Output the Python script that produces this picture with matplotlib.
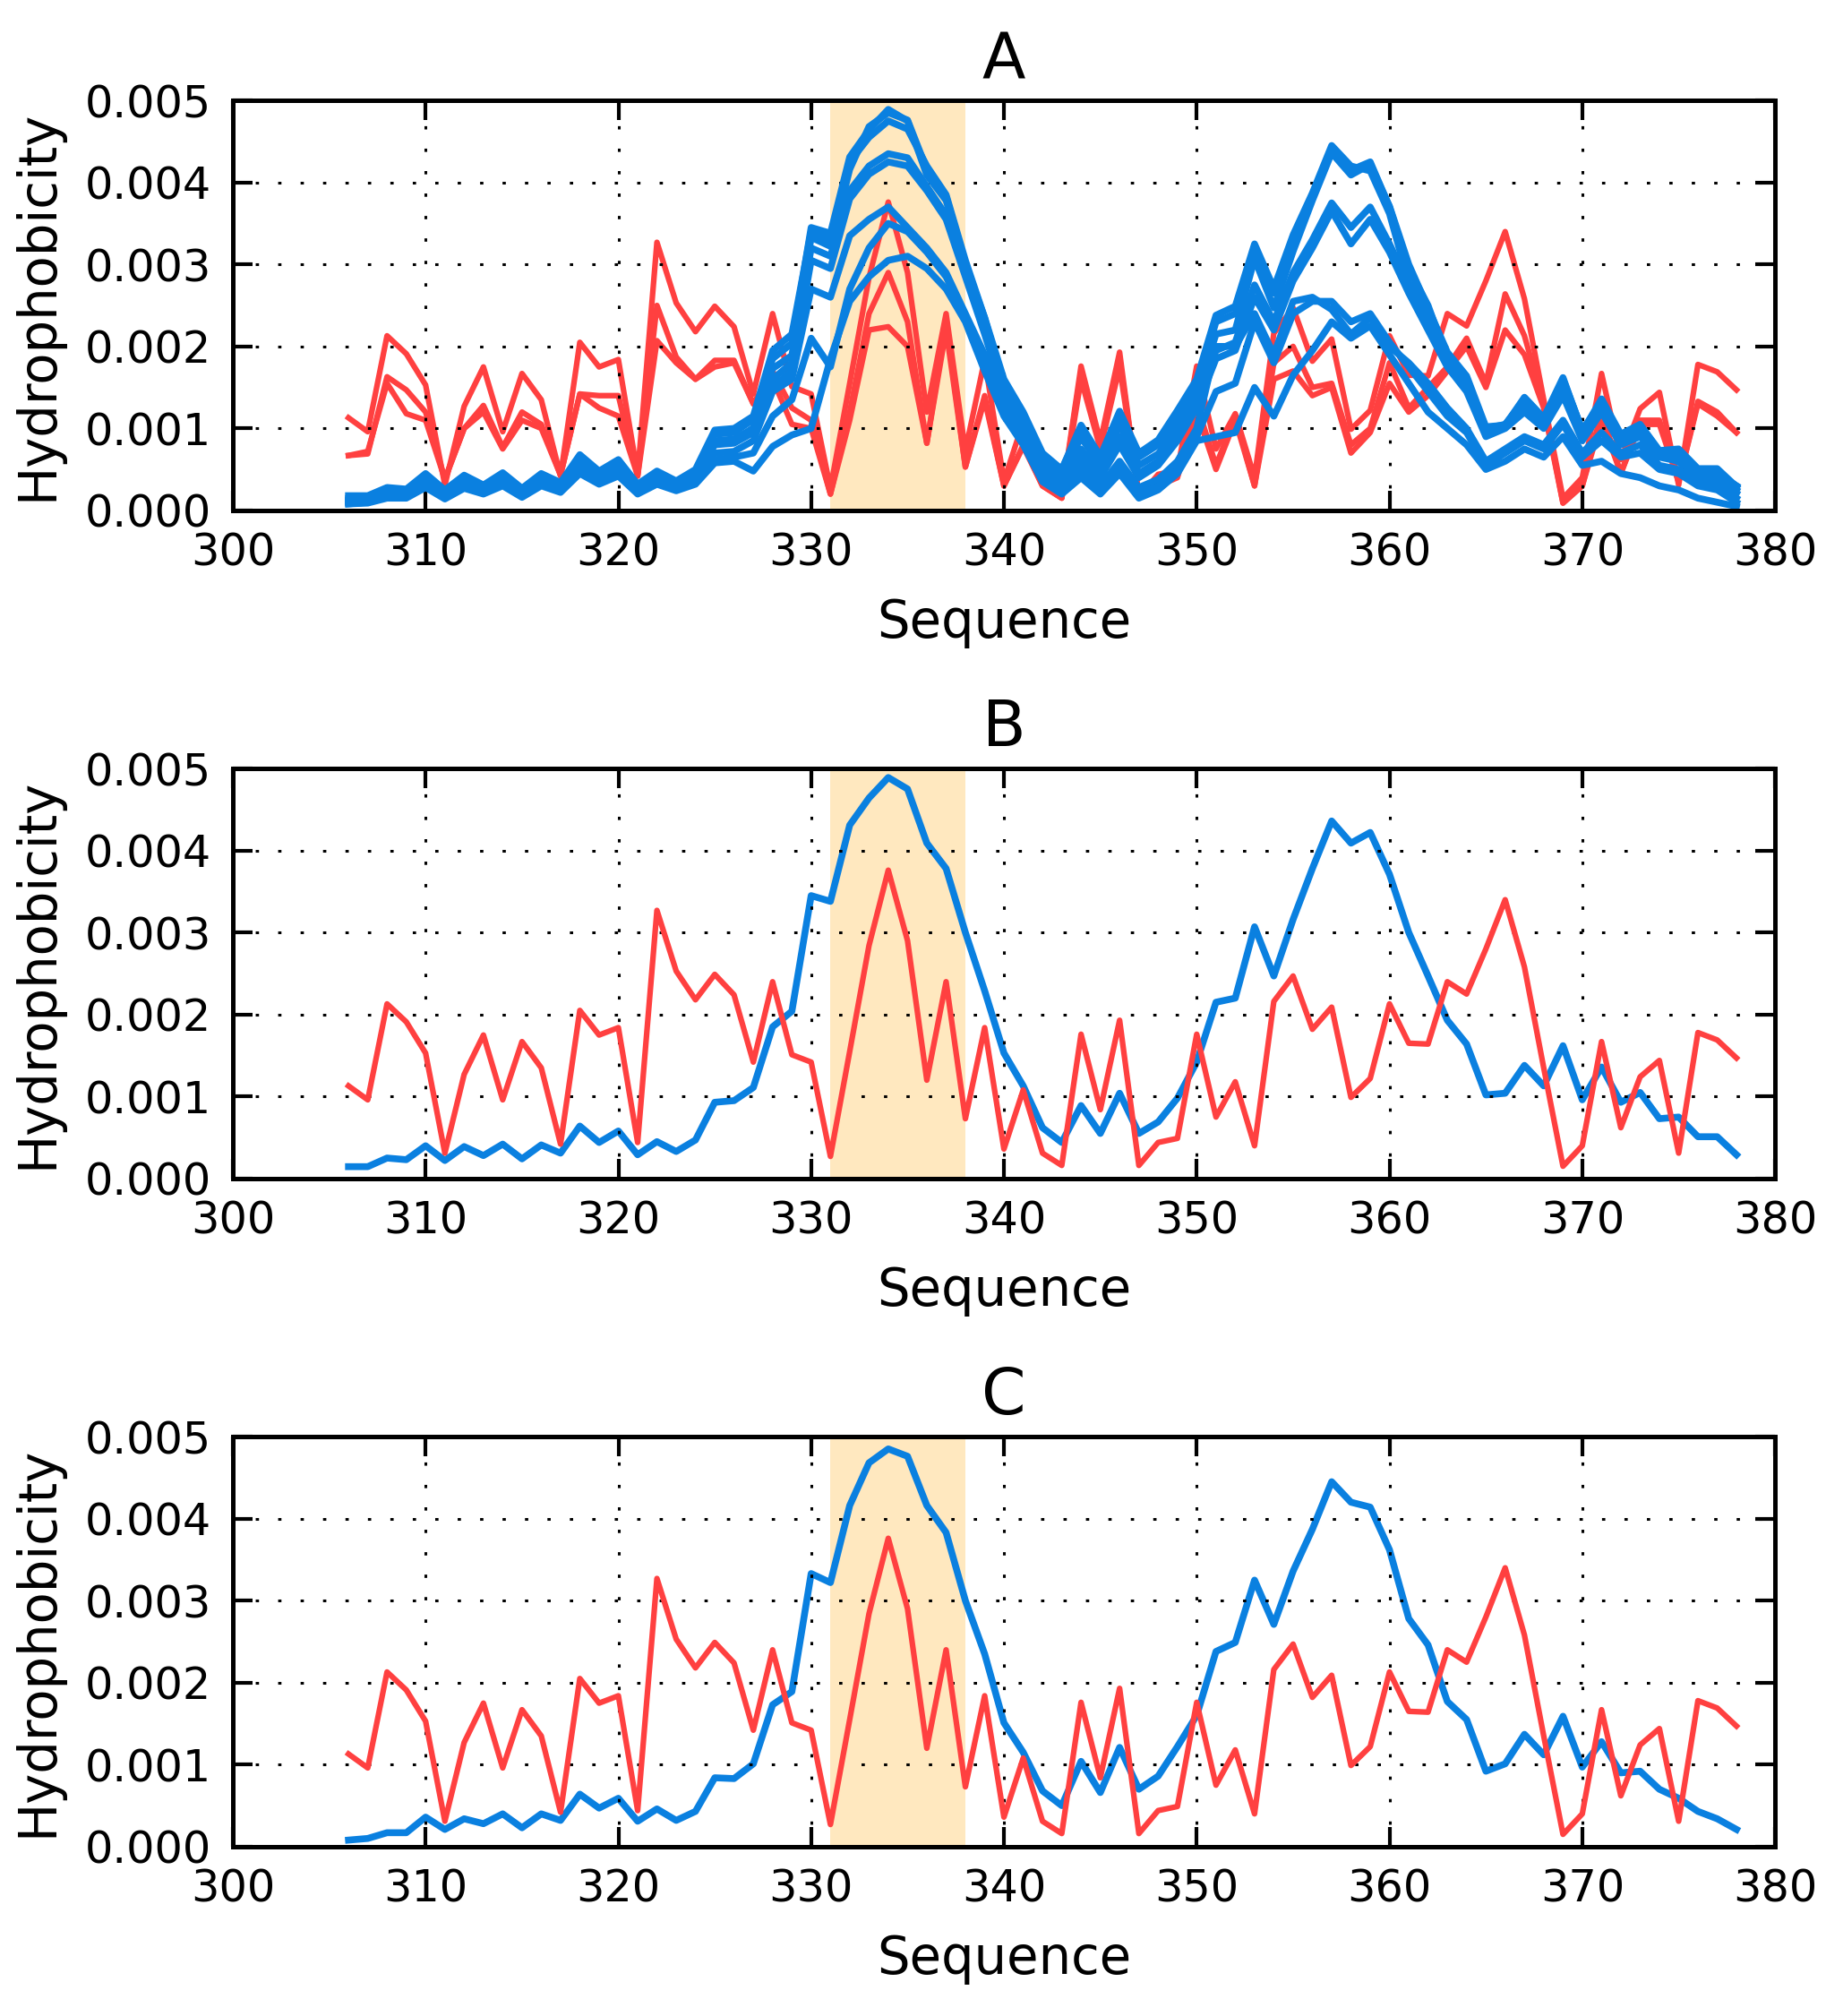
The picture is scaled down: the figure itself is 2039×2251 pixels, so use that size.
import numpy as np
import matplotlib
matplotlib.use("Agg")
import matplotlib.pyplot as plt

plt.rcParams['font.family'] = ['DejaVu Sans']

SCALE = 1e-3  # values below are in units of 0.001
seq = np.arange(306, 379)

red_main = [1.13, 0.96, 2.13, 1.91, 1.53, 0.31, 1.27, 1.75, 0.96, 1.67,
            1.35, 0.42, 2.05, 1.75, 1.84, 0.44, 3.27, 2.53, 2.18, 2.49,
            2.24, 1.42, 2.40, 1.51, 1.42, 0.27, 1.55, 2.84, 3.76, 2.90,
            1.20, 2.40, 0.73, 1.84, 0.36, 1.08, 0.31, 0.16, 1.76, 0.84,
            1.93, 0.16, 0.44, 0.49, 1.76, 0.75, 1.18, 0.40, 2.16, 2.47,
            1.82, 2.09, 0.99, 1.22, 2.13, 1.65, 1.64, 2.40, 2.25, 2.80,
            3.40, 2.58, 1.35, 0.15, 0.40, 1.67, 0.62, 1.24, 1.44, 0.31,
            1.78, 1.69, 1.47]

red_a2 = [0.67, 0.69, 1.63, 1.47, 1.20, 0.38, 1.00, 1.28, 0.77, 1.20,
          1.05, 0.43, 1.42, 1.40, 1.40, 0.42, 2.50, 1.87, 1.60, 1.83,
          1.83, 1.30, 1.70, 1.25, 1.10, 0.20, 1.20, 2.40, 2.90, 2.30,
          0.82, 2.30, 0.53, 1.40, 0.30, 0.80, 0.30, 0.15, 1.70, 0.80,
          1.85, 0.18, 0.35, 0.45, 1.30, 0.55, 1.15, 0.30, 1.80, 2.00,
          1.50, 1.55, 0.80, 1.00, 1.80, 1.25, 1.50, 1.75, 2.10, 1.55,
          2.64, 2.13, 1.30, 0.09, 0.30, 1.20, 0.45, 1.10, 1.10, 0.35,
          1.33, 1.20, 0.95]

red_a3 = [0.67, 0.72, 1.55, 1.18, 1.10, 0.38, 1.00, 1.20, 0.75, 1.10,
          1.00, 0.43, 1.42, 1.25, 1.15, 0.42, 2.07, 1.80, 1.60, 1.75,
          1.80, 1.30, 1.60, 1.05, 1.00, 0.20, 1.10, 2.20, 2.24, 2.00,
          0.82, 2.20, 0.53, 1.35, 0.30, 0.78, 0.30, 0.15, 1.60, 0.75,
          1.75, 0.18, 0.30, 0.40, 1.20, 0.50, 1.10, 0.30, 1.60, 1.70,
          1.40, 1.50, 0.70, 0.95, 1.55, 1.20, 1.40, 1.70, 2.00, 1.50,
          2.20, 1.90, 1.25, 0.09, 0.30, 1.10, 0.45, 1.05, 1.05, 0.35,
          1.30, 1.15, 0.95]

blue_B = [0.145, 0.145, 0.25, 0.23, 0.40, 0.22, 0.39, 0.28, 0.42, 0.24,
          0.41, 0.31, 0.64, 0.44, 0.58, 0.29, 0.45, 0.33, 0.47, 0.93,
          0.95, 1.11, 1.85, 2.04, 3.45, 3.38, 4.31, 4.64, 4.89, 4.75,
          4.09, 3.78, 3.00, 2.29, 1.53, 1.13, 0.62, 0.44, 0.89, 0.55,
          1.04, 0.55, 0.69, 0.98, 1.42, 2.15, 2.20, 3.07, 2.47, 3.16,
          3.78, 4.36, 4.09, 4.22, 3.71, 3.00, 2.47, 1.93, 1.64, 1.02,
          1.04, 1.38, 1.13, 1.62, 0.96, 1.36, 0.93, 1.05, 0.73, 0.75,
          0.51, 0.51, 0.29]

blue_C = [0.08, 0.10, 0.17, 0.17, 0.36, 0.21, 0.34, 0.28, 0.40, 0.23,
          0.40, 0.32, 0.64, 0.47, 0.59, 0.31, 0.46, 0.32, 0.43, 0.84,
          0.83, 1.01, 1.73, 1.89, 3.33, 3.22, 4.16, 4.68, 4.85, 4.76,
          4.16, 3.83, 3.00, 2.35, 1.51, 1.15, 0.68, 0.50, 1.04, 0.66,
          1.21, 0.70, 0.86, 1.22, 1.60, 2.38, 2.49, 3.25, 2.71, 3.36,
          3.87, 4.45, 4.20, 4.14, 3.62, 2.78, 2.46, 1.77, 1.55, 0.92,
          1.01, 1.37, 1.12, 1.59, 0.97, 1.28, 0.90, 0.92, 0.70, 0.59,
          0.43, 0.34, 0.21]

blue_a3 = [0.12, 0.13, 0.20, 0.20, 0.33, 0.18, 0.32, 0.24, 0.36, 0.20,
           0.35, 0.27, 0.52, 0.38, 0.50, 0.25, 0.40, 0.30, 0.42, 0.85,
           0.87, 1.00, 1.60, 1.80, 3.20, 3.10, 3.90, 4.20, 4.35, 4.30,
           3.95, 3.60, 2.90, 2.20, 1.45, 1.05, 0.55, 0.35, 0.75, 0.45,
           0.90, 0.45, 0.60, 0.90, 1.30, 1.95, 2.05, 2.75, 2.30, 2.90,
           3.30, 3.75, 3.45, 3.70, 3.25, 2.75, 2.30, 1.80, 1.50, 0.95,
           1.05, 1.25, 1.05, 1.45, 0.90, 1.25, 0.85, 0.95, 0.70, 0.65,
           0.50, 0.45, 0.30]

blue_a4 = [0.10, 0.12, 0.22, 0.20, 0.30, 0.17, 0.30, 0.22, 0.33, 0.18,
           0.33, 0.25, 0.48, 0.36, 0.47, 0.22, 0.38, 0.28, 0.40, 0.80,
           0.82, 0.95, 1.50, 1.70, 3.05, 2.95, 3.80, 4.10, 4.25, 4.20,
           3.90, 3.55, 2.85, 2.15, 1.40, 1.00, 0.50, 0.30, 0.65, 0.40,
           0.80, 0.40, 0.55, 0.85, 1.25, 1.85, 1.95, 2.60, 2.20, 2.80,
           3.20, 3.65, 3.25, 3.55, 3.15, 2.65, 2.20, 1.75, 1.45, 0.90,
           1.00, 1.20, 1.00, 1.40, 0.85, 1.20, 0.80, 0.90, 0.65, 0.60,
           0.45, 0.40, 0.25]

blue_a5 = [0.10, 0.10, 0.18, 0.18, 0.32, 0.16, 0.30, 0.22, 0.34, 0.18,
           0.34, 0.25, 0.50, 0.36, 0.46, 0.24, 0.36, 0.26, 0.36, 0.70,
           0.72, 0.85, 1.45, 1.60, 2.70, 2.60, 3.35, 3.55, 3.70, 3.45,
           3.20, 2.90, 2.40, 1.90, 1.30, 0.90, 0.40, 0.25, 0.55, 0.30,
           0.60, 0.28, 0.38, 0.60, 1.00, 2.00, 2.00, 2.40, 1.90, 2.55,
           2.60, 2.45, 2.15, 2.35, 2.00, 1.80, 1.55, 1.25, 1.00, 0.60,
           0.75, 0.90, 0.80, 1.10, 0.70, 0.95, 0.70, 0.80, 0.55, 0.50,
           0.35, 0.30, 0.15]

blue_a6 = [0.08, 0.09, 0.15, 0.15, 0.28, 0.14, 0.27, 0.20, 0.30, 0.16,
           0.30, 0.22, 0.45, 0.32, 0.42, 0.20, 0.32, 0.24, 0.32, 0.58,
           0.60, 0.48, 0.78, 0.92, 1.00, 1.85, 2.55, 2.85, 3.05, 3.10,
           2.95, 2.70, 2.30, 1.70, 1.15, 0.80, 0.35, 0.20, 0.40, 0.20,
           0.45, 0.15, 0.25, 0.45, 0.85, 0.90, 0.95, 1.50, 1.15, 1.65,
           1.95, 2.30, 2.10, 2.25, 1.90, 1.55, 1.20, 1.00, 0.80, 0.50,
           0.60, 0.75, 0.65, 0.90, 0.55, 0.60, 0.45, 0.40, 0.30, 0.25,
           0.15, 0.10, 0.05]

blue_a7 = [0.12, 0.14, 0.24, 0.22, 0.38, 0.20, 0.36, 0.26, 0.40, 0.22,
           0.38, 0.29, 0.60, 0.42, 0.55, 0.27, 0.42, 0.31, 0.44, 0.62,
           0.65, 0.70, 1.15, 1.35, 2.10, 1.75, 2.70, 3.20, 3.50, 3.40,
           3.15, 2.85, 2.35, 1.80, 1.25, 0.85, 0.38, 0.22, 0.50, 0.25,
           0.55, 0.20, 0.30, 0.50, 0.90, 1.45, 1.55, 2.30, 1.80, 2.40,
           2.55, 2.55, 2.30, 2.40, 2.05, 1.75, 1.45, 1.15, 0.95, 0.55,
           0.70, 0.85, 0.75, 1.05, 0.65, 0.85, 0.65, 0.70, 0.50, 0.45,
           0.30, 0.25, 0.10]

blue_a8 = [0.18, 0.18, 0.28, 0.26, 0.45, 0.25, 0.43, 0.31, 0.46, 0.27,
           0.45, 0.34, 0.68, 0.48, 0.62, 0.32, 0.48, 0.36, 0.50, 0.98,
           1.00, 1.15, 1.95, 2.15, 3.40, 3.30, 4.25, 4.55, 4.75, 4.65,
           4.20, 3.85, 3.05, 2.35, 1.60, 1.20, 0.70, 0.50, 1.00, 0.65,
           1.15, 0.65, 0.80, 1.10, 1.50, 2.30, 2.40, 3.20, 2.65, 3.30,
           3.85, 4.40, 4.15, 4.25, 3.70, 2.95, 2.50, 1.85, 1.60, 1.00,
           1.05, 1.35, 1.10, 1.60, 0.98, 1.32, 0.92, 1.00, 0.72, 0.70,
           0.50, 0.45, 0.30]

panel_titles = ["A", "B", "C"]
x_ticks = [300, 310, 320, 330, 340, 350, 360, 370, 380]
y_ticks = [0.000, 0.001, 0.002, 0.003, 0.004, 0.005]
span_start, span_end = 331, 338

RED = '#ff4040'
BLUE = '#0a80e0'
SPAN = '#ffe8bf'

panels = [
    (["red_main", "red_a2", "red_a3"],
     ["blue_a6", "blue_a7", "blue_a5", "blue_a4", "blue_a3", "blue_a8", "blue_C", "blue_B"], True),
    (["red_main"], ["blue_B"], False),
    (["red_main"], ["blue_C"], False),
]
data = dict(red_main=red_main, red_a2=red_a2, red_a3=red_a3, blue_B=blue_B, blue_C=blue_C,
            blue_a3=blue_a3, blue_a4=blue_a4, blue_a5=blue_a5, blue_a6=blue_a6,
            blue_a7=blue_a7, blue_a8=blue_a8)

fig = plt.figure(figsize=(20.39, 22.51), dpi=100)
bottoms = [0.7468, 0.4154, 0.0840]
for (reds, blues, red_first), title, bot in zip(panels, panel_titles, bottoms):
    ax = fig.add_axes([0.1275, bot, 0.8446, 0.2034])
    ax.axvspan(span_start, span_end, color=SPAN, lw=0, zorder=0)
    if red_first:
        for k in reds:
            ax.plot(seq, np.array(data[k]) * SCALE, color=RED, lw=4.5, zorder=2)
        for k in blues:
            ax.plot(seq, np.array(data[k]) * SCALE, color=BLUE, lw=5.5, zorder=3)
    else:
        for k in blues:
            ax.plot(seq, np.array(data[k]) * SCALE, color=BLUE, lw=5.5, zorder=2)
        for k in reds:
            ax.plot(seq, np.array(data[k]) * SCALE, color=RED, lw=4.5, zorder=3)
    ax.set_xlim(300, 380)
    ax.set_ylim(0, 0.005)
    ax.set_xticks(x_ticks)
    ax.set_yticks(y_ticks)
    ax.set_yticklabels([f"{v:.3f}" for v in y_ticks])
    ax.grid(True, color='black', linestyle=(0, (1.2, 7)), linewidth=2.2, zorder=1)
    ax.set_axisbelow(False)
    for s in ax.spines.values():
        s.set_linewidth(3.6)
        s.set_zorder(5)
    ax.tick_params(which='major', direction='in', length=16, width=3,
                   top=True, right=True, labelsize=35.5, pad=17)
    ax.set_title(title, fontsize=51, pad=18)
    ax.set_xlabel("Sequence", fontsize=41.5, labelpad=18)
    ax.set_ylabel("Hydrophobicity", fontsize=41.5, labelpad=18)

fig.savefig("out.png", dpi=100)
